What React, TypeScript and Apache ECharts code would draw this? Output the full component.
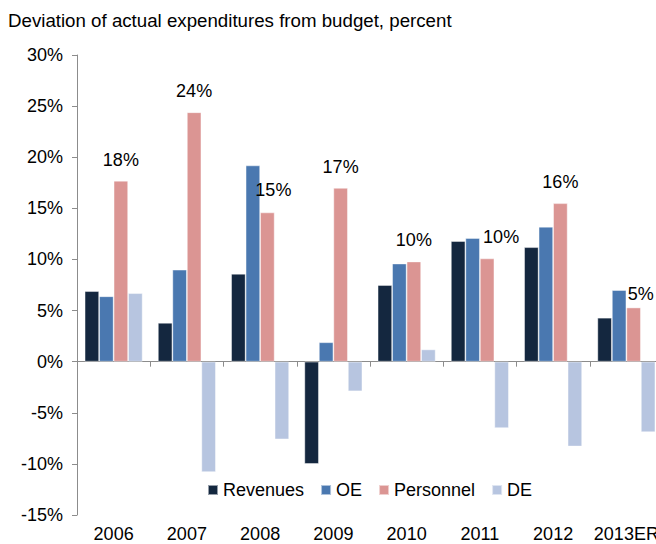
import React, { useEffect, useRef } from "react";
import * as echarts from "echarts";

const categories = ["2006", "2007", "2008", "2009", "2010", "2011", "2012", "2013ER"];
const revenues = [6.9, 3.8, 8.6, -10.0, 7.5, 11.8, 11.2, 4.3];
const oe = [6.4, 9.0, 19.2, 1.9, 9.6, 12.1, 13.2, 7.0];
const personnel = [17.7, 24.4, 14.6, 17.0, 9.8, 10.1, 15.5, 5.3];
const de = [6.7, -10.8, -7.6, -2.9, 1.2, -6.5, -8.3, -6.9];
const personnelLabels = ["18%", "24%", "15%", "17%", "10%", "10%", "16%", "5%"];
const yTicks = { min: -15, max: 30, interval: 5 };

// label nudges (style only)
const labelOffsets: Array<[number, number]> = [
  [0, 0], [0, 0], [6, -1], [0, 0], [0, 0], [14, 0], [0, 0], [7, 8],
];

const FONT = "'Liberation Sans', Arial, sans-serif";
const AXIS = "#8c8c8c";

export default function App() {
  const ref = useRef<HTMLDivElement>(null);
  useEffect(() => {
    if (!ref.current) return;
    const chart = echarts.init(ref.current, undefined, { renderer: "svg" });
    const barBase = {
      type: "bar" as const,
      barWidth: 14.5,
      barGap: "0%",
      itemStyle: { borderColor: "rgba(255,255,255,0.55)", borderWidth: 0.8 },
    };
    chart.setOption({
      animation: false,
      textStyle: { fontFamily: FONT },
      title: {
        text: "Deviation of actual expenditures from budget, percent",
        left: 8,
        top: 11,
        padding: 0,
        textStyle: { fontFamily: FONT, fontSize: 18.7, fontWeight: "normal", color: "#000" },
      },
      legend: {
        left: 207,
        top: 481,
        padding: 0,
        icon: "rect",
        itemWidth: 10,
        itemHeight: 10,
        itemGap: 16,
        textStyle: { fontFamily: FONT, fontSize: 18, color: "#000" },
        data: ["Revenues", "OE", "Personnel", "DE"],
      },
      grid: {
        left: 77,
        top: 55,
        height: 460,
        width: 586,
        containLabel: false,
        outerBoundsMode: "none",
      },
      xAxis: {
        type: "category",
        data: categories,
        axisLine: { onZero: true, lineStyle: { color: AXIS, width: 1 } },
        axisTick: { show: true, length: 5, lineStyle: { color: AXIS } },
        axisLabel: { interval: 0, margin: 10, fontFamily: FONT, fontSize: 18, color: "#000" },
      },
      yAxis: {
        type: "value",
        min: yTicks.min,
        max: yTicks.max,
        interval: yTicks.interval,
        splitLine: { show: false },
        axisLine: { show: true, lineStyle: { color: AXIS, width: 1 } },
        axisTick: { show: true, length: 5, lineStyle: { color: AXIS } },
        axisLabel: {
          margin: 14,
          fontFamily: FONT,
          fontSize: 18,
          color: "#000",
          formatter: (v: number) => `${v}%`,
        },
      },
      series: [
        { ...barBase, name: "Revenues", data: revenues, itemStyle: { ...barBase.itemStyle, color: "#14273f" } },
        { ...barBase, name: "OE", data: oe, itemStyle: { ...barBase.itemStyle, color: "#4a78b0" } },
        {
          ...barBase,
          name: "Personnel",
          itemStyle: { ...barBase.itemStyle, color: "#db9593" },
          data: personnel.map((v, i) => ({
            value: v,
            label: {
              show: true,
              position: "top",
              distance: 12,
              offset: labelOffsets[i],
              formatter: personnelLabels[i],
              fontFamily: FONT,
              fontSize: 18,
              color: "#000",
            },
          })),
        },
        { ...barBase, name: "DE", data: de, itemStyle: { ...barBase.itemStyle, color: "#b7c5e0" } },
      ],
    });
    return () => chart.dispose();
  }, []);
  return (
    <div
      ref={ref}
      style={{ position: "fixed", left: 0, top: 0, width: 656, height: 544, background: "#fff" }}
    />
  );
}
